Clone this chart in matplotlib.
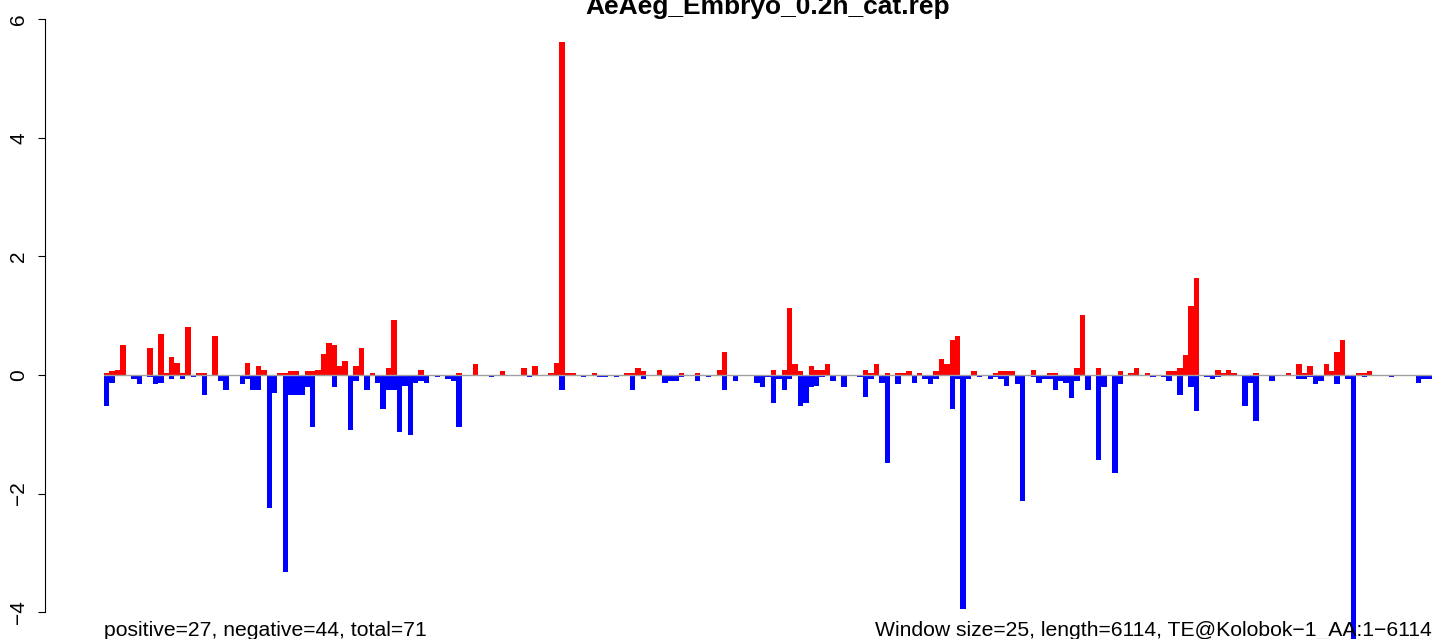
import matplotlib
matplotlib.use("Agg")
import matplotlib.pyplot as plt

plt.rcParams["font.family"] = ["Liberation Sans", "DejaVu Sans"]

TITLE = "AeAeg_Embryo_0.2h_cat.rep"
LEFT_NOTE = "positive=27, negative=44, total=71"
RIGHT_NOTE = "Window size=25, length=6114, TE@Kolobok\u22121_AA:1\u22126114"
N_WIN = 245
YTICKS = [-4, -2, 0, 2, 4, 6]

# sparse window values: index -> value
POS_IDX = [0, 1, 2, 3, 8, 10, 11, 12, 13, 14, 15, 17, 18, 20, 26, 28, 29, 32, 33, 34,
           35, 37, 38, 39, 40, 41, 42, 43, 44, 46, 47, 49, 52, 53, 58, 65, 68, 73, 77, 79,
           82, 83, 84, 85, 86, 90, 96, 97, 98, 99, 102, 106, 109, 113, 114, 123, 125, 126, 127, 128,
           130, 131, 132, 133, 140, 141, 142, 144, 146, 147, 148, 150, 153, 154, 155, 156, 157, 160, 164, 165,
           166, 167, 171, 174, 175, 179, 180, 183, 187, 189, 190, 192, 196, 197, 198, 199, 200, 201, 205, 206,
           207, 208, 212, 218, 220, 221, 222, 225, 226, 227, 228, 231, 232, 233]
POS_VAL = [0.03, 0.07, 0.08, 0.50, 0.45, 0.69, 0.03, 0.30, 0.20, 0.03, 0.81, 0.03, 0.03, 0.66, 0.21, 0.15, 0.08, 0.03, 0.03, 0.07,
           0.07, 0.07, 0.07, 0.08, 0.35, 0.54, 0.50, 0.15, 0.24, 0.15, 0.45, 0.03, 0.12, 0.93, 0.08, 0.03, 0.19, 0.07, 0.12, 0.15,
           0.03, 0.20, 5.62, 0.03, 0.03, 0.03, 0.03, 0.03, 0.12, 0.07, 0.08, 0.03, 0.03, 0.08, 0.39, 0.08, 0.08, 1.13, 0.19, 0.07,
           0.15, 0.08, 0.08, 0.19, 0.08, 0.03, 0.19, 0.03, 0.03, 0.03, 0.07, 0.03, 0.07, 0.27, 0.19, 0.59, 0.66, 0.07, 0.03, 0.07,
           0.07, 0.07, 0.08, 0.03, 0.03, 0.12, 1.01, 0.12, 0.07, 0.03, 0.12, 0.03, 0.07, 0.07, 0.12, 0.34, 1.16, 1.63, 0.08, 0.03,
           0.08, 0.03, 0.03, 0.03, 0.19, 0.03, 0.15, 0.19, 0.07, 0.39, 0.59, 0.03, 0.03, 0.07]

NEG_IDX = [0, 1, 5, 6, 8, 9, 10, 12, 14, 16, 18, 21, 22, 25, 26, 27, 28, 30, 31, 33,
           34, 35, 36, 37, 38, 42, 45, 46, 48, 50, 51, 52, 53, 54, 55, 56, 57, 58, 59, 61,
           63, 64, 65, 71, 78, 84, 88, 91, 92, 94, 97, 99, 103, 104, 105, 106, 109, 111, 114, 116,
           120, 121, 122, 123, 124, 125, 126, 128, 129, 130, 131, 132, 134, 136, 139, 140, 141, 143, 144, 146,
           149, 151, 152, 153, 156, 157, 158, 159, 161, 163, 164, 165, 166, 168, 169, 171, 172, 173, 174, 175,
           176, 177, 178, 179, 181, 183, 184, 186, 187, 193, 195, 196, 198, 200, 201, 203, 204, 205, 210, 211,
           212, 215, 220, 221, 222, 223, 224, 227, 229, 230, 232, 237, 242, 243, 244]
NEG_VAL = [-0.53, -0.13, -0.06, -0.15, -0.03, -0.15, -0.13, -0.06, -0.06, -0.03, -0.33, -0.10, -0.26, -0.15, -0.06, -0.25, -0.25, -2.24, -0.30, -3.33,
           -0.33, -0.33, -0.33, -0.21, -0.87, -0.21, -0.93, -0.10, -0.25, -0.13, -0.57, -0.25, -0.25, -0.96, -0.18, -1.02, -0.13, -0.10, -0.13, -0.03,
           -0.06, -0.10, -0.87, -0.03, -0.03, -0.26, -0.03, -0.03, -0.03, -0.03, -0.25, -0.06, -0.13, -0.10, -0.10, -0.03, -0.10, -0.03, -0.26, -0.10,
           -0.13, -0.21, -0.03, -0.48, -0.06, -0.26, -0.06, -0.52, -0.48, -0.21, -0.18, -0.03, -0.10, -0.21, -0.03, -0.37, -0.06, -0.13, -1.49, -0.15,
           -0.13, -0.06, -0.15, -0.06, -0.57, -0.06, -3.95, -0.06, -0.03, -0.06, -0.03, -0.06, -0.18, -0.15, -2.12, -0.03, -0.13, -0.06, -0.06, -0.25,
           -0.10, -0.13, -0.38, -0.10, -0.26, -1.43, -0.21, -1.65, -0.15, -0.03, -0.03, -0.10, -0.33, -0.21, -0.60, -0.03, -0.06, -0.03, -0.52, -0.13,
           -0.77, -0.10, -0.06, -0.06, -0.03, -0.15, -0.10, -0.15, -0.06, -4.60, -0.03, -0.03, -0.13, -0.06, -0.06]

W, H = 1441, 639
fig = plt.figure(figsize=(W / 100, H / 100), dpi=100)
ax = fig.add_axes([104 / W, 0, 1328 / W, 1])

ax.bar(POS_IDX, POS_VAL, width=1.0, align="edge", color="#ff0000", lw=0, zorder=2)
ax.bar(NEG_IDX, NEG_VAL, width=1.0, align="edge", color="#0000ff", lw=0, zorder=2)
ax.axhline(0, color="#a0a0a0", lw=1.0, zorder=3)

ax.set_xlim(0, N_WIN)
ax.set_ylim(-264 / 59.3, 375 / 59.3)

for s in ("top", "right", "bottom"):
    ax.spines[s].set_visible(False)
# axis line sits 59 px left of the first bar (0.72 pt per px at 100 dpi)
ax.spines["left"].set_position(("outward", 59 * 0.72))
ax.spines["left"].set_bounds(-4, 6)
ax.spines["left"].set_linewidth(0.8)
ax.set_xticks([])
ax.set_yticks(YTICKS)
ax.set_yticklabels([str(t).replace("-", "\u2212") for t in YTICKS],
                   rotation=90, va="center", fontsize=15)
ax.tick_params(axis="y", length=5, width=0.8, pad=7)

fig.text((104 + 1432) / 2 / W, 1 - 14 / H, TITLE, ha="center", va="baseline",
         fontsize=19, fontweight="bold")
fig.text(104 / W, 1 - 636 / H, LEFT_NOTE, ha="left", va="baseline", fontsize=15.2)
fig.text(1432 / W, 1 - 636 / H, RIGHT_NOTE, ha="right", va="baseline", fontsize=15.2)

fig.savefig("out.png", dpi=100)
